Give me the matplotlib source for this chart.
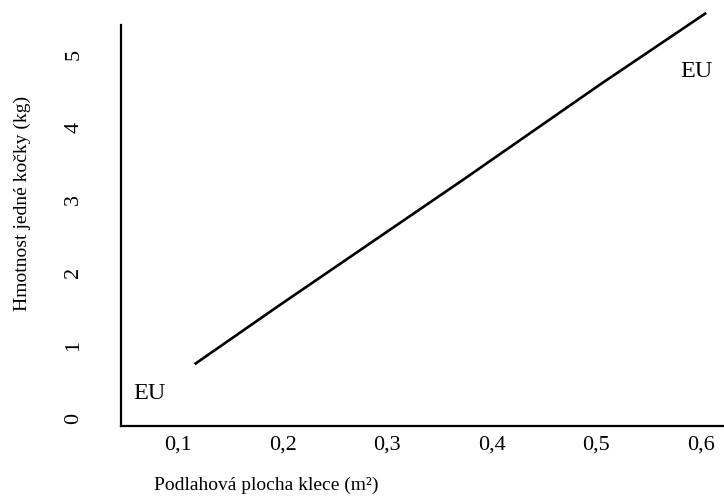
import matplotlib
matplotlib.use('Agg')
import matplotlib.pyplot as plt

plt.rcParams['font.family'] = ['Liberation Serif', 'DejaVu Serif']

# data
plocha = [0.116, 0.195, 0.372, 0.504, 0.605]   # m2
hmotnost = [0.74, 1.53, 3.27, 4.59, 5.57]      # kg
x_ticks = [0.1, 0.2, 0.3, 0.4, 0.5, 0.6]
x_labels = ['0,1', '0,2', '0,3', '0,4', '0,5', '0,6']
y_ticks = [0, 1, 2, 3, 4, 5]
y_labels = ['0', '1', '2', '3', '4', '5']

fig = plt.figure(figsize=(7.24, 5), dpi=100)
ax = fig.add_axes([0.167, 0.148, 0.833, 0.832])

ax.plot(plocha, hmotnost, color='black', lw=1.9, solid_capstyle='butt')

ax.set_xlim(0.0455, 0.622)
ax.set_ylim(-0.11, 5.61)

for s in ['top', 'right']:
    ax.spines[s].set_visible(False)
ax.spines['left'].set_bounds(-0.11, 5.41)
ax.spines['left'].set_linewidth(1.6)
ax.spines['bottom'].set_linewidth(1.6)

ax.set_xticks(x_ticks)
ax.set_xticklabels(x_labels, fontsize=16)
ax.set_yticks(y_ticks)
ax.set_yticklabels(y_labels, fontsize=16, rotation=90, va='center')
ax.tick_params(axis='x', length=0, pad=7)
ax.tick_params(axis='y', length=0, pad=27)

ax.text(0.073, 0.34, 'EU', fontsize=17.5, ha='center', va='center')
ax.text(0.596, 4.77, 'EU', fontsize=17.5, ha='center', va='center')

fig.text(154 / 724, 1 - 485 / 500, 'Podlahová plocha klece (m²)',
         fontsize=14, ha='left', va='center')
fig.text(22 / 724, 1 - 203 / 500, 'Hmotnost jedné kočky (kg)',
         fontsize=14, rotation=90, ha='center', va='center')

fig.savefig('out.png', dpi=100)
